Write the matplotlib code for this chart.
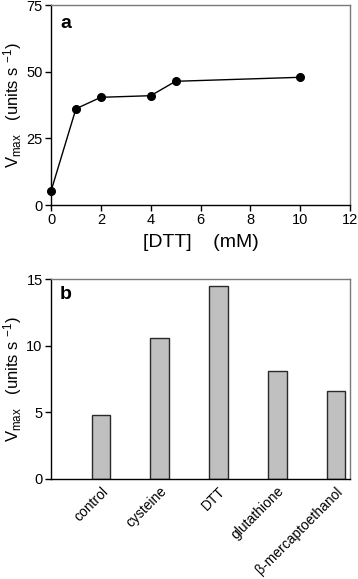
import matplotlib
matplotlib.use("Agg")
import matplotlib.pyplot as plt
import numpy as np

plt.rcParams["font.family"] = ["Liberation Sans", "DejaVu Sans"]
plt.rcParams["mathtext.fontset"] = "custom"
plt.rcParams["mathtext.rm"] = "Liberation Sans"
plt.rcParams["mathtext.default"] = "regular"

# panel a: Vmax vs DTT concentration
dtt_mM = [0, 1, 2, 4, 5, 10]
vmax_dtt = [5.2, 36.1, 40.4, 41.0, 46.4, 47.9]

# panel b: Vmax for each reducing agent
agents = ["control", "cysteine", "DTT", "glutathione", "β-mercaptoethanol"]
vmax_agents = [4.8, 10.58, 14.46, 8.12, 6.59]

ylab = "V$_{max}$   (units s $^{-1}$)"
frame_grey = "#7a7a7a"

fig = plt.figure(figsize=(3.58, 5.79), dpi=100)


def style(ax):
    ax.spines["top"].set_color(frame_grey)
    ax.spines["right"].set_color(frame_grey)
    for s in ("left", "bottom"):
        ax.spines[s].set_color("black")
    for s in ax.spines.values():
        s.set_linewidth(1.0)
    ax.tick_params(direction="out", length=4, width=1, labelsize=10.5, pad=2)


# --- a ---
ax1 = fig.add_axes([0.1425, 0.6459, 0.8352, 0.3454])
style(ax1)
ax1.plot(dtt_mM, vmax_dtt, color="black", lw=1.0, marker="o", ms=5.5,
         clip_on=False, zorder=3)
ax1.set_xlim(0, 12)
ax1.set_ylim(0, 75)
ax1.set_xticks(np.arange(0, 13, 2))
ax1.set_yticks([0, 25, 50, 75])
ax1.set_xlabel("[DTT]    (mM)", fontsize=14, labelpad=5)
ax1.set_ylabel(ylab, fontsize=12, labelpad=2)
ax1.text(0.03, 0.91, "a", transform=ax1.transAxes, fontsize=14,
         fontweight="bold", va="center", ha="left")

# --- b ---
ax2 = fig.add_axes([0.1425, 0.1732, 0.8352, 0.3444])
style(ax2)
ax2.tick_params(axis="x", length=0, pad=4)
pos = np.arange(len(agents))
ax2.bar(pos, vmax_agents, width=0.32, color="#c0c0c0", edgecolor="#2a2a2a",
        linewidth=1.0, zorder=2)
ax2.set_xlim(-0.85, 4.24)
ax2.set_ylim(0, 15)
ax2.set_yticks([0, 5, 10, 15])
ax2.set_xticks(pos)
ax2.set_xticklabels(agents, rotation=45, ha="right", rotation_mode="anchor",
                    fontsize=10)
ax2.set_ylabel(ylab, fontsize=12, labelpad=2)
ax2.text(0.03, 0.925, "b", transform=ax2.transAxes, fontsize=14,
         fontweight="bold", va="center", ha="left")

fig.savefig("out.png", dpi=100)
